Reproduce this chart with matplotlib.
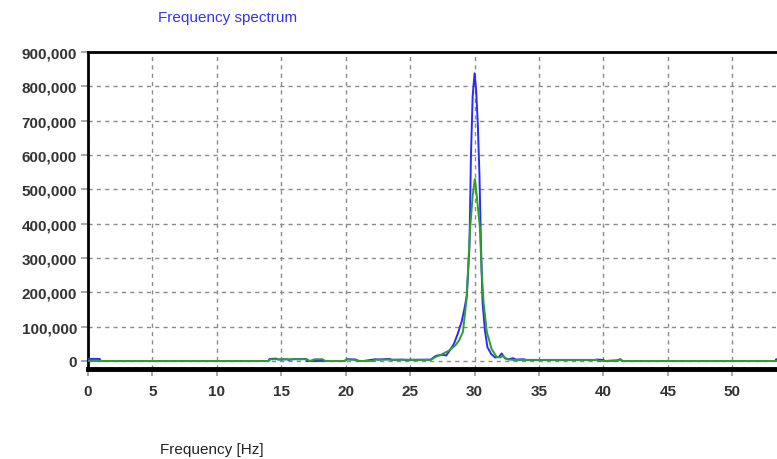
import matplotlib
matplotlib.use("Agg")
import matplotlib.pyplot as plt
from matplotlib.ticker import FuncFormatter

# ---- data ----
blue_freq = [0.0, 0.05, 0.9, 1.0, 14.0, 14.1, 14.6, 14.8, 15.4, 15.6, 16.0, 16.3, 16.9, 17.0,
             19.9, 20.1, 20.8, 21.0, 21.4, 22.3, 22.5, 23.4, 23.6, 24.4, 24.6, 26.6,
             27.0, 27.5, 27.8, 28.1, 28.4, 28.7, 29.0, 29.2, 29.4, 29.6, 29.72, 29.85, 30.0,
             30.12, 30.25, 30.38, 30.5, 30.62, 30.8, 31.0, 31.3, 31.6, 31.9, 32.1, 32.35,
             32.6, 33.0, 33.2, 33.8, 34.0, 39.3, 39.5, 40.0, 40.1, 41.1, 41.3, 41.5, 53.35, 53.4, 53.5]
blue_amp = [0, 6000, 6000, 0, 0, 6000, 7000, 4000, 5000, 3000, 6000, 5000, 6000, 0,
            0, 5000, 4000, 0, 0, 5000, 4000, 6000, 3000, 4000, 3000, 4000,
            15000, 18000, 16000, 32000, 50000, 80000, 115000, 150000, 190000, 330000, 600000, 770000, 838000,
            790000, 690000, 540000, 330000, 170000, 90000, 40000, 20000, 10000, 12000, 22000, 8000,
            5000, 8000, 4000, 5000, 3000, 3000, 4000, 3000, 0, 2000, 5000, 0, 0, 5000, 5000]

green_freq = [0.0, 14.0, 14.2, 17.0, 17.2, 17.6, 18.2, 18.4, 19.9, 20.1, 20.8, 21.0, 22.1, 22.3,
              26.6, 27.0, 27.5, 28.0, 28.5, 28.8, 29.1, 29.38, 29.64, 29.85, 30.02, 30.12, 30.25,
              30.41, 30.55, 30.7, 30.95, 31.32, 31.71, 32.0, 32.2, 32.5, 33.0, 39.5, 39.6, 41.1, 41.3, 41.4, 53.5]
green_amp = [0, 0, 5000, 5000, 0, 5000, 5000, 0, 0, 5000, 3000, 0, 0, 4000,
             3000, 12000, 20000, 30000, 45000, 60000, 85000, 181000, 377000, 480000, 530000, 500000, 450000,
             390000, 260000, 170000, 85000, 35000, 12000, 10000, 15000, 5000, 3000, 3000, 0, 0, 5000, 0, 0]

x_ticks = [0, 5, 10, 15, 20, 25, 30, 35, 40, 45, 50]
y_ticks = [0, 100000, 200000, 300000, 400000, 500000, 600000, 700000, 800000, 900000]

title_text = "Frequency spectrum"
xlabel_text = "Frequency [Hz]"

# ---- figure ----
plt.rcParams['font.family'] = ['Liberation Sans', 'DejaVu Sans']
fig = plt.figure(figsize=(7.77, 4.60), dpi=100)
ax = fig.add_axes([88 / 777, 1 - 370 / 460, (777 - 88) / 777 + 0.01, (370 - 53) / 460])

ax.plot(blue_freq, blue_amp, color='#2a2aff', lw=1.4, zorder=3)
ax.plot(green_freq, green_amp, color='#2ca02c', lw=1.4, zorder=4)

ax.set_xlim(0, 53.47 + 0.01 * 777 / 12.88)
ax.set_ylim(-23400, 900000)
ax.set_xticks(x_ticks)
ax.set_yticks(y_ticks)
ax.yaxis.set_major_formatter(FuncFormatter(lambda v, p: f"{int(v):,}"))

ax.grid(True, color='#8a8a8a', linestyle=(0, (3, 3)), lw=1.0)
ax.set_axisbelow(True)

for s in ['left', 'top', 'bottom']:
    ax.spines[s].set_color('black')
ax.spines['left'].set_linewidth(2.0)
ax.spines['top'].set_linewidth(2.0)
ax.spines['bottom'].set_linewidth(3.5)
ax.spines['right'].set_visible(False)

ax.tick_params(axis='both', colors='#9a9a9a', length=5, width=1.2, labelsize=11,
               labelcolor='#333333')
ax.tick_params(axis='y', pad=3)
ax.tick_params(axis='x', pad=6)
for lbl in ax.get_xticklabels() + ax.get_yticklabels():
    lbl.set_fontweight('bold')

fig.text(158 / 777, 1 - 18 / 460, title_text, color='#3333ee', fontsize=11,
         ha='left', va='center')
fig.text(160 / 777, 1 - 450 / 460, xlabel_text, color='#222222', fontsize=11,
         ha='left', va='center')

fig.savefig("out.png", dpi=100)
